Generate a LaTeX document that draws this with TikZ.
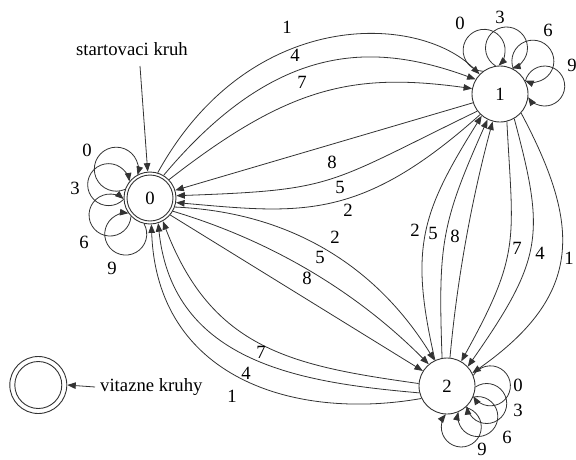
\documentclass[tikz,border=0pt]{standalone}
\usepackage{fontspec}
\setmainfont{Liberation Serif}
\usetikzlibrary{arrows.meta}
% self loop: #1 node, #2 node radius, #3 loop radius, #4 centre distance, #5 direction
\newcommand\nloop[5]{%
  \pgfmathsetmacro\lpa{acos((#2*#2+#4*#4-#3*#3)/(2*#2*#4))}%
  \pgfmathsetmacro\lpb{acos((#3*#3+#4*#4-#2*#2)/(2*#3*#4))}%
  \pgfmathtruncatemacro\lps{mod(round(#5+\lpa)+720,360)}%
  \pgfmathsetmacro\lpt{#5+180-\lpb}%
  \pgfmathsetmacro\lpe{#5-180+\lpb}%
  \draw[e] (#1.\lps) arc[start angle=\lpt, end angle=\lpe, radius=#3];}
\begin{document}
\begin{tikzpicture}[x=1pt,y=1pt,
  font=\fontsize{18.7}{22}\selectfont,
  st/.style={circle,draw=black!80,line width=0.9pt,inner sep=0pt,minimum size=56pt},
  dbl/.style={minimum size=52pt,path picture={\draw[black!80,line width=0.9pt] (path picture bounding box.center) circle[radius=23pt];}},
  leg/.style={minimum size=57pt,path picture={\draw[black!80,line width=0.9pt] (path picture bounding box.center) circle[radius=23.5pt];}},
  e/.style={draw=black!80,line width=0.8pt,-{Triangle[length=8.5pt,width=6.5pt]}},
  lb/.style={inner sep=0pt}]
\fill[white] (0,0) rectangle (576,-459);
\useasboundingbox (0,0) rectangle (576,-459);
% nodes
\node[st,dbl] (n0) at (150,-198) {0};
\node[st] (n1) at (500,-94) {1};
\node[st] (n2) at (447,-386) {2};
\node[st,leg] (lg) at (38.3,-385) {};
\node[lb] (stl) at (132,-49) {startovaci kruh};
\node[lb,anchor=west] (vk) at (100,-387) {vitazne kruhy};
\coordinate (sa) at (140,-66);
\draw[e] (sa) -- (n0.95);
\draw[e] (vk.west) ++(-5,0) coordinate (va) -- (lg.east);
% 0 -> 1
\draw[e] (n0.73) .. controls (249,-7) and (418,-13) .. (n1.136);
\draw[e] (n0.59) .. controls (278,-39) and (376,-43) .. (n1.149);
\draw[e] (n0.44) .. controls (288,-87) and (352,-72) .. (n1.169);
\node[lb] (a1) at (287,-27) {1};
\node[lb] (a4) at (295,-55) {4};
\node[lb] (a7) at (302,-82) {7};
% 1 -> 0
\draw[e] (n1.198) -- (n0.17);
\draw[e] (n1.217) .. controls (325,-185) and (337,-190) .. (n0.5);
\draw[e] (n1.226) .. controls (360,-222) and (301,-213.5) .. (n0.350);
\node[lb] (b8) at (332,-162) {8};
\node[lb] (b5) at (340,-187) {5};
\node[lb] (b2) at (348,-210) {2};
% 0 -> 2
\draw[e] (n0.340) .. controls (288,-212) and (375,-264) .. (n2.116);
\draw[e] (n0.330) .. controls (271,-240.5) and (356.5,-291.6) .. (n2.130);
\draw[e] (n0.320) -- (n2.148);
\node[lb] (c2) at (335,-237) {2};
\node[lb] (c5) at (320,-257) {5};
\node[lb] (c8) at (307,-278) {8};
% 2 -> 0
\draw[e] (n2.175) .. controls (292.6,-365.8) and (212.2,-350.1) .. (n0.299);
\draw[e] (n2.194) .. controls (303.8,-382.7) and (172.9,-364.2) .. (n0.288);
\draw[e] (n2.206) .. controls (292.2,-421.2) and (156.8,-376.7) .. (n0.273);
\node[lb] (d7) at (261,-352) {7};
\node[lb] (d4) at (246,-373) {4};
\node[lb] (d1) at (232,-396) {1};
% 1 -> 2
\draw[e] (n1.284) .. controls (513,-240) and (521.7,-252.2) .. (n2.60);
\draw[e] (n1.300) .. controls (545,-233.6) and (543.8,-258) .. (n2.43);
\draw[e] (n1.318) .. controls (580,-224) and (585,-294) .. (n2.27);
\node[lb] (e7) at (517,-248) {7};
\node[lb] (e4) at (540,-253) {4};
\node[lb] (e1) at (569,-258) {1};
% 2 -> 1
\draw[e] (n2.115) .. controls (409,-247.4) and (421.3,-212.6) .. (n1.230);
\draw[e] (n2.100) .. controls (438,-244) and (441.3,-223.4) .. (n1.244);
\draw[e] (n2.84) .. controls (457,-280) and (471.4,-200.6) .. (n1.255);
\node[lb] (f2) at (415,-230) {2};
\node[lb] (f5) at (433,-233) {5};
\node[lb] (f8) at (455,-236) {8};
% loops on 0
\nloop{n0}{26}{22}{44}{139}
\nloop{n0}{26}{21}{43}{162}
\nloop{n0}{26}{21}{43}{203}
\nloop{n0}{26}{21}{43}{236}
\node[lb] (g0) at (87,-150) {0};
\node[lb] (g3) at (75,-188) {3};
\node[lb] (g6) at (84,-242) {6};
\node[lb] (g9) at (112,-268) {9};
% loops on 1
\nloop{n1}{28}{21}{46}{110}
\nloop{n1}{28}{21}{46}{82}
\nloop{n1}{28}{21}{46}{45}
\nloop{n1}{28}{20}{45}{10}
\node[lb] (h0) at (460,-23) {0};
\node[lb] (h3) at (500,-17) {3};
\node[lb] (h6) at (548,-30) {6};
\node[lb] (h9) at (572,-65) {9};
% loops on 2
\nloop{n2}{28}{20}{43}{0}
\nloop{n2}{28}{20}{43}{-24}
\nloop{n2}{28}{20}{43}{-45}
\nloop{n2}{28}{20}{43}{-71}
\node[lb] (k0) at (518,-385) {0};
\node[lb] (k3) at (518,-410) {3};
\node[lb] (k6) at (507,-437) {6};
\node[lb] (k9) at (482,-449) {9};
\end{tikzpicture}
\end{document}
